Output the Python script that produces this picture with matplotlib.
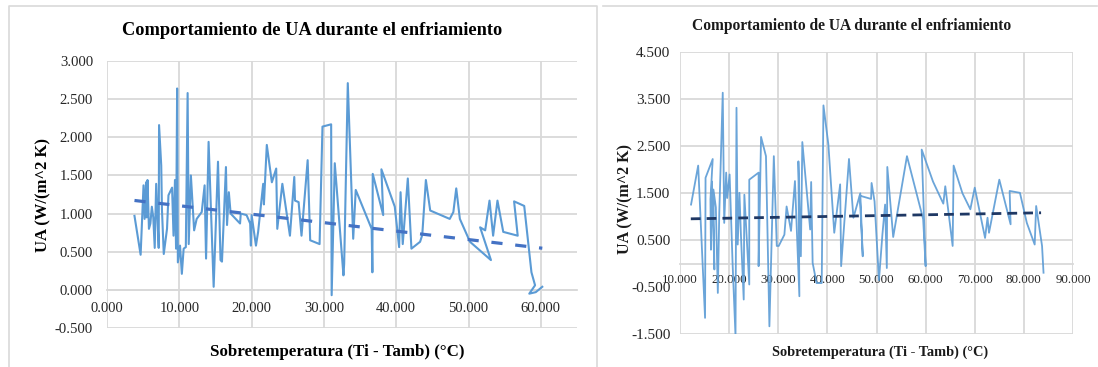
import matplotlib
matplotlib.use("Agg")
import matplotlib.pyplot as plt
from matplotlib.lines import Line2D

plt.rcParams['font.family'] = ['Liberation Serif', 'DejaVu Serif']

# ---- Chart 1: UA vs over-temperature (first run) ----
left_dt = [3.8, 4.65, 5.05, 5.2, 5.4, 5.5, 5.6, 5.8, 6.0, 6.2, 6.4, 6.6, 6.8, 7.0,
           7.15, 7.2, 7.5, 7.6, 7.85, 8.3, 8.5, 9.0, 9.2, 9.4, 9.55, 9.7, 9.8, 10.1,
           10.35, 10.6, 10.9, 11.15, 11.3, 11.6, 12.05, 12.4, 13.1, 13.5, 13.7, 14.05,
           14.75, 15.35, 15.7, 15.9, 16.45, 16.6, 16.85, 17.1, 18.4, 18.5, 19.3, 19.8,
           19.9, 20.0, 20.6, 20.9, 21.6, 21.7, 22.1, 22.8, 23.4, 23.55, 24.25, 25.3,
           25.9, 26.0, 26.5, 26.9, 27.75, 28.1, 29.4, 29.8, 31.0, 31.07, 31.5, 32.7,
           32.8, 33.3, 34.05, 34.4, 36.6, 36.7, 36.75, 38.2, 37.95, 39.8, 40.4, 40.6,
           40.9, 41.6, 42.1, 43.3, 43.6, 44.1, 44.7, 47.4, 47.9, 48.3, 48.8, 50.2,
           53.1, 51.6, 52.3, 52.9, 53.4, 54.0, 54.8, 56.8, 56.3, 57.7, 58.7, 59.2,
           58.4, 59.3, 60.2]
left_ua = [0.97, 0.46, 1.37, 0.93, 1.41, 0.95, 1.44, 0.80, 0.87, 1.09, 0.95, 0.55, 1.39, 0.89,
           0.55, 2.16, 1.63, 1.05, 0.47, 0.80, 1.24, 1.34, 0.71, 1.44, 0.54, 2.64, 0.36, 0.58,
           0.21, 0.54, 0.56, 2.58, 0.60, 1.50, 0.78, 0.93, 1.02, 1.37, 0.41, 1.94,
           0.04, 1.68, 0.39, 0.37, 1.61, 0.85, 1.28, 1.00, 0.87, 1.00, 0.98, 0.87,
           0.58, 0.98, 0.58, 0.76, 1.39, 1.12, 1.90, 1.41, 1.59, 0.80, 1.39, 0.71,
           1.48, 1.17, 1.15, 0.71, 1.70, 0.65, 0.60, 2.14, 2.17, -0.07, 1.66, 0.19,
           0.34, 2.71, 0.67, 1.31, 0.80, 0.23, 1.52, 0.98, 1.58, 1.09, 0.56, 1.28,
           0.60, 1.46, 0.54, 0.63, 0.72, 1.44, 1.04, 0.93, 1.02, 1.33, 0.93, 0.63,
           0.39, 0.82, 0.78, 1.17, 0.71, 1.17, 0.76, 0.71, 1.16, 1.10, 0.23, 0.06,
           -0.05, -0.03, 0.04]
left_trend_slope = -0.0111
left_trend_intercept = 1.214
left_trend_range = [3.8, 60.2]
left_yticks = [-0.5, 0.0, 0.5, 1.0, 1.5, 2.0, 2.5, 3.0]
left_xticks = [0, 10, 20, 30, 40, 50, 60]

# ---- Chart 2: UA vs over-temperature (second run) ----
right_dt = [12.25, 13.7, 15.1, 15.2, 16.66, 16.2, 16.3, 16.5, 17.0, 16.8, 17.3, 17.7, 18.0,
            18.7, 19.0, 19.4, 19.6, 20.1, 20.7, 21.3, 21.5, 21.75, 22.1, 22.4, 22.97, 23.1,
            24.1, 24.1, 26.0, 26.0, 26.5, 27.5, 28.2, 29.1, 29.7, 30.1, 31.25, 31.7, 32.6,
            33.4, 34.3, 34.1, 34.6, 34.9, 36.5, 36.7, 37.0, 37.8, 38.85, 39.2, 40.2, 41.4,
            42.6, 42.8, 44.4, 45.3, 46.7, 47.2, 46.6, 48.9, 49.0, 49.6, 50.5, 51.2, 51.75,
            52.1, 52.2, 53.4, 56.2, 59.5, 60.0, 59.2, 61.5, 63.6, 64.0, 65.5, 65.7, 67.5,
            69.1, 70.0, 72.1, 72.6, 72.9, 75.0, 77.3, 77.1, 79.2, 80.6, 82.2, 82.5, 83.7,
            84.0]
right_ua = [1.26, 2.09, -1.15, 1.83, 2.23, 1.37, 0.30, 1.75, -0.12, 1.58, 1.20, -0.62, 1.10,
            3.64, 0.87, 1.94, 1.40, 1.90, 0.02, -1.54, 3.32, 0.41, 1.51, 0.62, -0.76, 1.47,
            -0.44, 1.79, 1.94, -0.05, 2.70, 2.29, -1.33, 2.29, 0.38, 0.38, 0.62, 1.22, 0.70,
            1.76, -0.69, 2.18, 0.16, 2.59, 0.73, 1.74, 0.02, -0.41, -0.41, 3.37, 2.54, 0.66,
            1.69, -0.05, 2.23, 0.98, 1.50, 0.16, 1.45, 1.38, 1.72, 1.33, -0.35, 0.62, 1.26,
            -0.09, 2.06, 0.57, 2.29, 0.95, -0.05, 2.43, 1.75, 1.28, 1.65, 0.38, 2.09, 1.50,
            1.16, 1.62, 0.55, 0.98, 0.66, 1.79, 0.84, 1.55, 1.51, 0.87, 0.41, 1.23, 0.38,
            -0.19]
right_trend_slope = 0.0018
right_trend_intercept = 0.935
right_trend_range = [12.2, 83.5]
right_yticks = [-1.5, -0.5, 0.5, 1.5, 2.5, 3.5, 4.5]
right_ygrid = [-1.5, 0.5, 1.5, 2.5, 3.5, 4.5]
right_xticks = [10, 20, 30, 40, 50, 60, 70, 80, 90]

TITLE = "Comportamiento de UA durante el enfriamiento"
XLABEL = "Sobretemperatura (Ti - Tamb) (°C)"
YLABEL = "UA (W/(m^2 K)"

W, H = 1098, 367
fig = plt.figure(figsize=(W / 100, H / 100), dpi=100)
fig.patch.set_facecolor('white')

GRID = '#D9D9D9'
SERIES = '#5B9BD5'
TXT = '#262626'


def px_axes(x0, y0, x1, y1):
    return fig.add_axes([x0 / W, 1 - y1 / H, (x1 - x0) / W, (y1 - y0) / H])


def setup(ax, xlim, ylim, xticks, yticks, ygrid, xfs, yfs, xpad, ypad):
    ax.set_xlim(*xlim)
    ax.set_ylim(*ylim)
    for s in ['top', 'right', 'left']:
        ax.spines[s].set_visible(False)
    ax.spines['bottom'].set_position(('data', 0))
    ax.spines['bottom'].set_color(GRID)
    ax.spines['bottom'].set_linewidth(1.3)
    for v in ygrid:
        ax.axhline(v, color=GRID, lw=1.3, zorder=0)
    for v in xticks:
        ax.axvline(v, color=GRID, lw=1.3, zorder=0)
    ax.set_xticks(xticks)
    ax.set_xticklabels([f"{v:.3f}" for v in xticks])
    ax.set_yticks(yticks)
    ax.set_yticklabels([f"{v:.3f}" for v in yticks])
    ax.tick_params(length=0, colors=TXT)
    ax.tick_params(axis='y', pad=ypad, labelsize=yfs)
    ax.tick_params(axis='x', pad=xpad, labelsize=xfs)
    ax.set_facecolor('none')


# left chart
axl = px_axes(107, 61, 577, 328)
setup(axl, (0, 65), (-0.5, 3.0), left_xticks, left_yticks, left_yticks,
      10.5, 10.6, 8.5, 10)
axl.plot(left_dt, left_ua, color=SERIES, lw=1.5, zorder=3)
tl = [left_trend_intercept + left_trend_slope * x for x in left_trend_range]
axl.plot(left_trend_range, tl, color='#4472C4', lw=2.3, dashes=(3.5, 4), zorder=4)

# right chart
axr = px_axes(680, 52.3, 1073, 334.3)
setup(axr, (10, 90), (-1.5, 4.5), right_xticks, right_yticks, right_ygrid,
      9.3, 11, 7, 7)
axr.plot(right_dt, right_ua, color=SERIES, lw=1.3, alpha=0.9, zorder=3)
tr = [right_trend_intercept + right_trend_slope * x for x in right_trend_range]
axr.plot(right_trend_range, tr, color='#1F3864', lw=2.0, dashes=(3.5, 2.2), zorder=4)


def ftext(x, y, s, **kw):
    fig.text(x / W, 1 - y / H, s, ha='center', va='center', **kw)


ftext(312.5, 30.5, TITLE, fontsize=13.2, fontweight='bold', color='black')
ftext(337.5, 352, XLABEL, fontsize=12.2, fontweight='bold', color='black')
ftext(43, 195, YLABEL, fontsize=12, fontweight='bold', rotation=90, color='black')

ftext(852, 26, TITLE, fontsize=11.2, fontweight='bold', color='#1a1a1a')
ftext(880, 352, XLABEL, fontsize=10.4, fontweight='bold', color='#1a1a1a')
ftext(625, 199, YLABEL, fontsize=11.5, fontweight='bold', rotation=90, color='#1a1a1a')

# panel frames
fig.add_artist(Line2D([9 / W, 9 / W, 597 / W, 597 / W], [0, 1 - 6 / H, 1 - 6 / H, 0],
                      transform=fig.transFigure, color=GRID, lw=1.2))
fig.add_artist(Line2D([603 / W, 1097 / W], [1 - 6 / H, 1 - 6 / H],
                      transform=fig.transFigure, color=GRID, lw=1.2))

fig.savefig('out.png', dpi=100, facecolor='white')
